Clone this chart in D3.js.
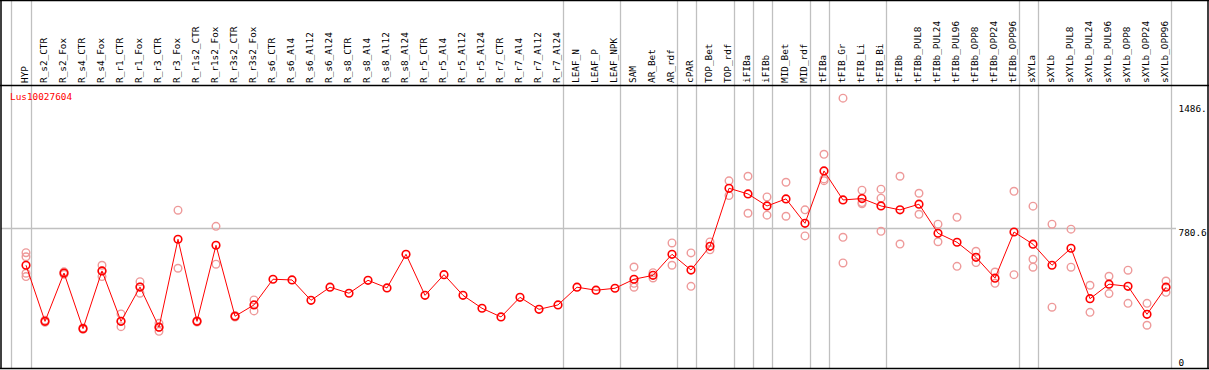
<!DOCTYPE html>
<html>
<head>
<meta charset="utf-8">
<script src="https://cdn.jsdelivr.net/npm/d3@7"></script>
<style>
    body { margin: 0; background: #fff; }
    #chart { width: 1209px; height: 370px; }
    text { font-family: "DejaVu Sans Mono", monospace; font-size: 9.4px; }
</style>
</head>
<body>
<div id="chart"></div>
<script>
// sample names along the top
const categories = ["HYP", "R_s2_CTR", "R_s2_Fox", "R_s4_CTR", "R_s4_Fox", "R_r1_CTR", "R_r1_Fox",
    "R_r3_CTR", "R_r3_Fox", "R_r1s2_CTR", "R_r1s2_Fox", "R_r3s2_CTR", "R_r3s2_Fox",
    "R_s6_CTR", "R_s6_Al4", "R_s6_Al12", "R_s6_Al24", "R_s8_CTR", "R_s8_Al4", "R_s8_Al12", "R_s8_Al24",
    "R_r5_CTR", "R_r5_Al4", "R_r5_Al12", "R_r5_Al24", "R_r7_CTR", "R_r7_Al4", "R_r7_Al12", "R_r7_Al24",
    "LEAF_N", "LEAF_P", "LEAF_NPK", "SAM", "AR_Bet", "AR_rdf", "cPAR", "TOP_Bet", "TOP_rdf",
    "iFIBa", "iFIBb", "MID_Bet", "MID_rdf", "tFIBa", "tFIB_Gr", "tFIB_Li", "tFIB_Bi", "tFIBb",
    "tFIBb_PUL8", "tFIBb_PUL24", "tFIBb_PUL96", "tFIBb_OPP8", "tFIBb_OPP24", "tFIBb_OPP96",
    "sXYLa", "sXYLb", "sXYLb_PUL8", "sXYLb_PUL24", "sXYLb_PUL96", "sXYLb_OPP8", "sXYLb_OPP24", "sXYLb_OPP96"];

// mean expression per sample
const means = [572, 255, 528, 214, 540, 255, 449, 222, 719, 255, 685, 284, 348,
    493, 489, 374, 448, 414, 487, 444, 634, 402, 519, 402, 329, 280, 391, 323, 348,
    448, 431, 442, 493, 515, 634, 545, 679, 1007, 975, 907, 947, 809, 1105, 941, 949, 907, 885,
    917, 753, 702, 617, 499, 760, 691, 572, 668, 383, 465, 453, 295, 448];

// individual replicates per sample
const replicates = [
    [643, 620, 527, 508], [262, 250], [535, 521], [218, 210], [572, 540, 508],
    [297, 255, 225], [479, 449, 414], [244, 222, 199], [883, 555], [259, 251],
    [792, 578], [288, 280], [376, 314],
    [], [], [], [], [], [], [], [], [], [], [], [], [], [], [], [],
    [], [], [],
    [562, 470, 448], [530, 500], [698, 572], [642, 453], [704, 659], [1049, 966],
    [1075, 866], [958, 855], [1041, 849], [885, 738], [1199, 1060, 1050],
    [1516, 730, 585], [996, 926, 919], [1002, 951, 764], [1075, 692],
    [979, 860], [804, 705], [843, 566], [651, 587], [534, 470], [990, 519],
    [906, 606, 561], [804, 335], [776, 561], [459, 306], [510, 412], [544, 357], [357, 233], [483, 419]];

// group boundaries (line drawn after these samples)
const groupEnds = ["HYP", "R_r7_Al24", "LEAF_NPK", "AR_rdf", "cPAR", "TOP_rdf", "iFIBa", "iFIBb",
    "MID_rdf", "tFIBa", "tFIB_Bi", "tFIBb_OPP96", "sXYLa", "sXYLb_OPP96"];

const yTicks = [1486, 780.6, 0];
const yTickLabels = ["1486.", "780.6", "0"];
const gridValues = [780.6];

const geneName = "Lus10027604";

/*
SETTING UP THE SVG CANVAS
*/
const width = 1209;
const height = 370;
const headerBottom = 85.5;
const plotBottom = 368.5;

const svg = d3.select("#chart")
    .append("svg")
    .attr("width", width)
    .attr("height", height);

/*
DEFINE SCALES
*/
const xScale = d3.scalePoint()
    .domain(categories)
    .range([26, 1166]);

const yScale = d3.scaleLinear()
    .domain([0, 1486])
    .range([366.5, 103.5]);

/*
GRID AND SEPARATORS
*/
svg.selectAll(".grid")
    .data(gridValues)
    .enter()
    .append("line")
    .attr("x1", 1)
    .attr("x2", 1176)
    .attr("y1", d => Math.round(yScale(d)) + 0.5)
    .attr("y2", d => Math.round(yScale(d)) + 0.5)
    .attr("stroke", "#c0c0c0")
    .attr("stroke-width", 1.3);

svg.append("line")
    .attr("x1", Math.round(xScale("HYP") - 15) + 0.5)
    .attr("x2", Math.round(xScale("HYP") - 15) + 0.5)
    .attr("y1", 0)
    .attr("y2", plotBottom)
    .attr("stroke", "#c0c0c0")
    .attr("stroke-width", 1.3);

svg.selectAll(".sep")
    .data(groupEnds)
    .enter()
    .append("line")
    .attr("x1", d => Math.round(xScale(d) + 4.7) + 0.5)
    .attr("x2", d => Math.round(xScale(d) + 4.7) + 0.5)
    .attr("y1", 0)
    .attr("y2", plotBottom)
    .attr("stroke", "#c0c0c0")
    .attr("stroke-width", 1.3);

/*
FRAME
*/
svg.append("line").attr("x1", 0).attr("x2", width).attr("y1", 0.5).attr("y2", 0.5)
    .attr("stroke", "#000").attr("stroke-width", 1.5);
svg.append("line").attr("x1", 0).attr("x2", width).attr("y1", headerBottom).attr("y2", headerBottom)
    .attr("stroke", "#000").attr("stroke-width", 1.5);
svg.append("line").attr("x1", 0).attr("x2", width).attr("y1", plotBottom).attr("y2", plotBottom)
    .attr("stroke", "#000").attr("stroke-width", 1.5);
svg.append("line").attr("x1", 1).attr("x2", 1).attr("y1", 0).attr("y2", plotBottom)
    .attr("stroke", "#000").attr("stroke-width", 1.5);
svg.append("line").attr("x1", 1208).attr("x2", 1208).attr("y1", 0).attr("y2", plotBottom)
    .attr("stroke", "#000").attr("stroke-width", 1.5);

/*
HEADER LABELS
*/
svg.selectAll(".catLabel")
    .data(categories)
    .enter()
    .append("text")
    .attr("class", "catLabel")
    .attr("transform", d => `translate(${xScale(d) + 2},83) rotate(-90)`)
    .attr("text-anchor", "start")
    .attr("fill", "#000")
    .text(d => d);

/*
RIGHT AXIS LABELS
*/
svg.selectAll(".yLabel")
    .data(yTicks)
    .enter()
    .append("text")
    .attr("class", "yLabel")
    .attr("x", 1178.5)
    .attr("y", d => Math.min(yScale(d) + 8, 366))
    .attr("fill", "#000")
    .text((d, i) => yTickLabels[i]);

svg.append("text")
    .attr("x", 10)
    .attr("y", 99.5)
    .attr("fill", "#ff0000")
    .text(geneName);

/*
DRAW THE MARKS
*/
const repPoints = [];
replicates.forEach(function (reps, i) {
    reps.forEach(function (v) {
        repPoints.push({ cat: categories[i], value: v });
    });
});

svg.selectAll(".rep")
    .data(repPoints)
    .enter()
    .append("circle")
    .attr("class", "rep")
    .attr("cx", d => xScale(d.cat))
    .attr("cy", d => yScale(d.value))
    .attr("r", 3.8)
    .attr("fill", "none")
    .attr("stroke", "#ee9a9a")
    .attr("stroke-width", 1.4);

const line = d3.line()
    .x((d, i) => xScale(categories[i]))
    .y(d => yScale(d));

svg.append("path")
    .datum(means)
    .attr("d", line)
    .attr("fill", "none")
    .attr("stroke", "#ff0000")
    .attr("stroke-width", 1);

svg.selectAll(".mean")
    .data(means)
    .enter()
    .append("circle")
    .attr("class", "mean")
    .attr("cx", (d, i) => xScale(categories[i]))
    .attr("cy", d => yScale(d))
    .attr("r", 3.8)
    .attr("fill", "none")
    .attr("stroke", "#ff0000")
    .attr("stroke-width", 1.6);
</script>
</body>
</html>
